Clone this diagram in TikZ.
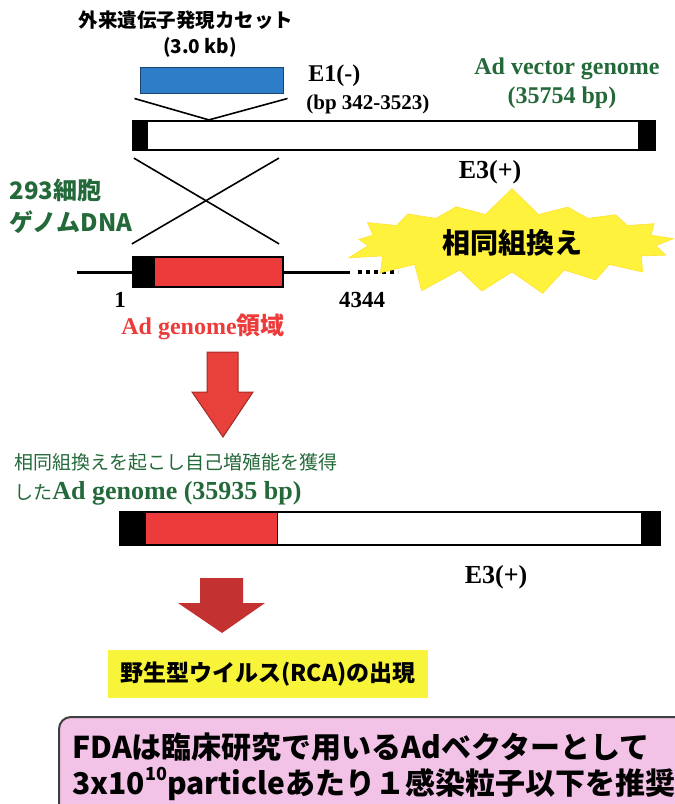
\documentclass[tikz,border=0pt]{standalone}
\usepackage{fontspec}
\usepackage{tikz}
\setmainfont{Liberation Serif}
\newfontfamily\jp{Noto Sans CJK JP}
\usetikzlibrary{arrows.meta, positioning, shapes.symbols, calc}
\definecolor{gtxt}{HTML}{24693A}
\definecolor{cassette}{HTML}{2E7DC8}
\definecolor{adred}{HTML}{EC3B3A}
\definecolor{arrowA}{HTML}{E8403A}
\definecolor{arrowB}{HTML}{C43131}
\definecolor{burst}{HTML}{FFF23C}
\definecolor{rcabox}{HTML}{F8F43A}
\definecolor{fdapink}{HTML}{F2C3E6}
\newcommand{\fsz}[1]{\fontsize{#1}{#1}\selectfont}

\begin{document}
\begin{tikzpicture}[x=1pt, y=-1pt, thick, inner sep=0pt]
  \tikzset{
    jpb/.style={font=\jp\bfseries\fsz{#1}},
    jpr/.style={font=\jp\fsz{#1}},
    srb/.style={font=\bfseries\fsz{#1}},
    bar/.style={draw=black, line width=2.2pt, fill=white, rectangle},
    xline/.style={line width=1.6pt},
  }
  \useasboundingbox (0,0) rectangle (675,804);
  \clip (0,0) rectangle (675,804);

  % 1. Kazeta a vektorovy genom
  \node[jpb=19.5] (ttl) at (186,20) {外来遺伝子発現カセット};
  \node[jpb=19] (kb) at (200,47) {(3.0 kb)};
  \node[draw=cassette!55!black, fill=cassette, line width=1pt, minimum width=143pt, minimum height=26pt] (cas) at (211.5,80) {};
  \node[srb=24, anchor=west] (e1) at (308,76) {E1(-)};
  \node[srb=21, anchor=west] (e1bp) at (306,104) {(bp 342-3523)};
  \node[srb=24, text=gtxt] (avg) at (567,69) {Ad vector genome};
  \node[srb=24, text=gtxt] (avbp) at (562,98) {(35754 bp)};
  \node[bar, minimum width=522pt, minimum height=29pt,
        path picture={
          \fill[black] (path picture bounding box.north west) rectangle ++(15,29);
          \fill[black] (path picture bounding box.north east) rectangle ++(-17,29);
        }] (vec) at (394,135.5) {};
  \coordinate (vtip) at ($(vec.north west)+(77,0)$);
  \draw[xline] ($(cas.south west)+(-5,5)$) -- (vtip) -- ($(cas.south east)+(4,5)$);
  \node[srb=26] (e3a) at (490,172) {E3(+)};

  % 2. Genom bunek 293
  \node[jpb=24, text=gtxt, anchor=west] (c293) at (9,190) {293細胞};
  \node[jpb=24, text=gtxt, anchor=west] (gdna) at (9,222) {ゲノムDNA};
  \coordinate (gl) at (77,272);
  \coordinate (gr) at (350,272);
  \coordinate (gdots) at (398,272);
  \node[bar, fill=adred, minimum width=150pt, minimum height=30pt,
        path picture={
          \fill[black] (path picture bounding box.north west) rectangle ++(22,30);
        }] (gbox) at (208,272) {};
  \draw[line width=3pt] (gl) -- (gbox.west);
  \draw[line width=3pt] (gbox.east) -- (gr);
  \draw[line width=3.5pt, dash pattern=on 4pt off 4pt] ($(gr)+(8,0)$) -- (gdots);
  \draw[xline] ($(vec.south west)+(2,7)$) -- ($(gbox.north east)+(-5,-12)$);
  \draw[xline] ($(vec.south west)+(147,7)$) -- ($(gbox.north west)+(0,-12)$);
  \node[srb=23] (n1) at (120,300) {1};
  \node[srb=23] (n4344) at (362,300) {4344};
  \node[srb=24, text=adred] (adreg) at (203,327) {Ad genome{\jp 領域}};

  % 3. Homologni rekombinace
  \node[starburst, fill=burst, draw=burst!85!orange, line width=0.6pt, starburst points=17,
        starburst point height=28pt, random starburst=7, minimum width=345pt,
        minimum height=114pt, jpb=28] (hr) at (512,243) {相同組換え};

  % 4. Sipky a vysledny genom
  \filldraw[fill=arrowA, draw=arrowA!70!black, line width=1pt]
    (207,352) -- (238,352) -- (238,392) -- (253,392) -- (223,437) -- (192,392) -- (207,392) -- cycle;
  \node[jpr=19, text=gtxt, anchor=west] (rec1) at (14,462) {相同組換えを起こし自己増殖能を獲得};
  \node[jpr=19, text=gtxt, anchor=west] (rec2) at (14,493) {した{\rmfamily\bfseries\fsz{26}Ad genome (35935 bp)}};
  \node[bar, minimum width=540pt, minimum height=33pt,
        path picture={
          \fill[black] (path picture bounding box.north west) rectangle ++(26,33);
          \fill[adred] ($(path picture bounding box.north west)+(26,0)$) rectangle ++(131,33);
          \draw[black, line width=1pt] ($(path picture bounding box.north west)+(157,0)$) -- ++(0,33);
          \fill[black] (path picture bounding box.north east) rectangle ++(-19,33);
        }] (rca) at (390,528.5) {};
  \node[srb=26] (e3b) at (496,577) {E3(+)};
  \fill[arrowB]
    (200,578) -- (243,578) -- (243,603) -- (265,603) -- (222,633) -- (178,603) -- (200,603) -- cycle;

  % 5. RCA a doporuceni FDA
  \node[fill=rcabox, minimum width=320pt, minimum height=48pt, jpb=23] (rcaout) at (268,674) {野生型ウイルス(RCA)の出現};
  \node[draw=black!75, line width=2pt, fill=fdapink, rounded corners=12pt, anchor=north west,
        minimum width=640pt, minimum height=110pt] (fda) at (58,716) {};
  \node[jpb=30, anchor=west] (fda1) at (72,747) {FDAは臨床研究で用いるAdベクターとして};
  \node[jpb=30, anchor=west] (fda2) at (72,784) {3x10\raisebox{0.45em}{\fsz{18}10}particleあたり１感染粒子以下を推奨};
\end{tikzpicture}
\end{document}
